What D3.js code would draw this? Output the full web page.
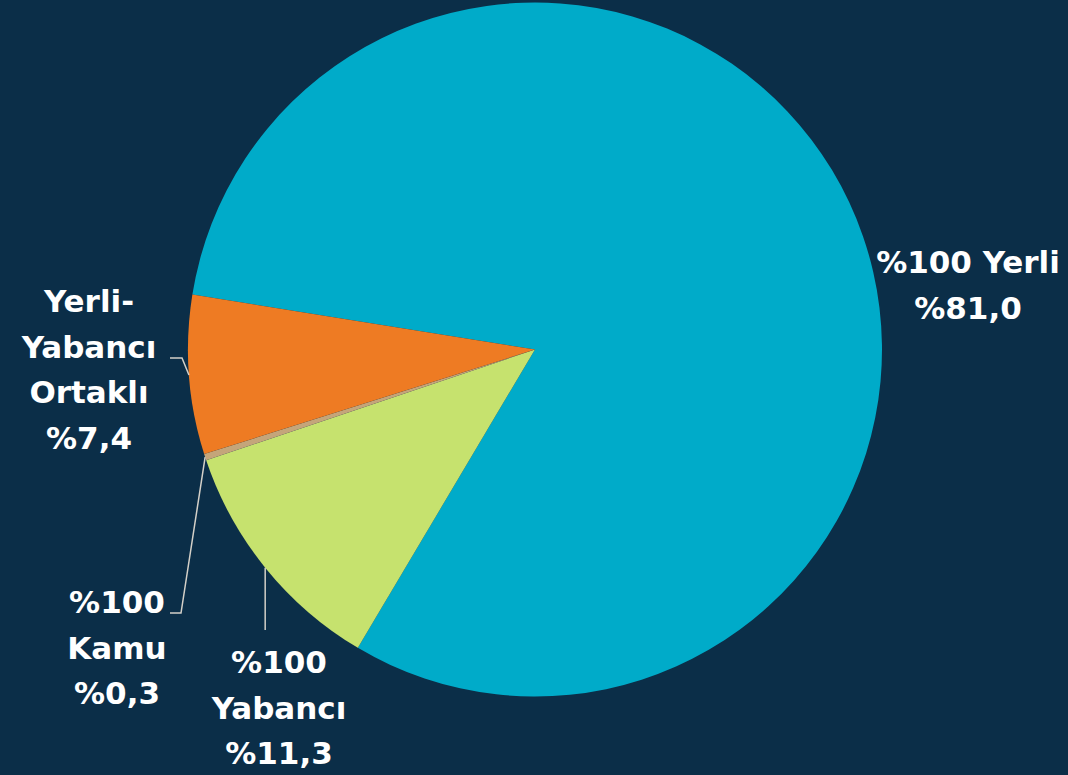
<!DOCTYPE html>
<html>
<head>
<meta charset="utf-8">
<script src="https://cdn.jsdelivr.net/npm/d3@7"></script>
<style>
  html, body { margin: 0; padding: 0; background: #0b2e48; }
  svg { display: block; }
  .lbl { font-family: "DejaVu Sans", sans-serif; font-weight: bold; font-size: 31px; fill: #ffffff; }
</style>
</head>
<body>
<div id="chart"></div>
<script>
// data
const categories = ['%100 Yerli', '%100 Yabancı', '%100 Kamu', 'Yerli-Yabancı Ortaklı'];
const values = [81.0, 11.3, 0.3, 7.4];
const valueLabels = ['%81,0', '%11,3', '%0,3', '%7,4'];
const labelLines = [
  ['%100 Yerli', '%81,0'],
  ['%100', 'Yabancı', '%11,3'],
  ['%100', 'Kamu', '%0,3'],
  ['Yerli-', 'Yabancı', 'Ortaklı', '%7,4']
];

const config = {
  div: '#chart',
  width: 1068,
  height: 775,
  cx: 535,
  cy: 349.5,
  radius: 347,
  startDeg: -80.9,
  lineGap: 45.5
};

const colors = d3.scaleOrdinal()
  .domain(categories)
  .range(['#00abc9', '#c6e26e', '#c4a57a', '#ee7b23']);

// label placement: text center x, first baseline y, leader elbow
const labelLayout = [
  { x: 968, y: 273, leader: null },
  { x: 279, y: 673, leader: { kind: 'vertical', endY: 630 } },
  { x: 117, y: 613, leader: { kind: 'elbow', elbowX: 181, endX: 170, endY: 613 } },
  { x: 89, y: 312, leader: { kind: 'elbow', elbowX: 182, endX: 170, endY: 358 } }
];

const svg = d3.select(config.div)
  .append('svg')
  .attr('width', config.width)
  .attr('height', config.height)
  .attr('viewBox', [0, 0, config.width, config.height]);

svg.append('rect')
  .attr('width', config.width)
  .attr('height', config.height)
  .attr('fill', '#0b2e48');

const start = config.startDeg * Math.PI / 180;
const pie = d3.pie()
  .sort(null)
  .value(d => d)
  .startAngle(start)
  .endAngle(start + 2 * Math.PI);

const arcs = pie(values);

const arc = d3.arc()
  .innerRadius(0)
  .outerRadius(config.radius);

const g = svg.append('g')
  .attr('transform', `translate(${config.cx},${config.cy})`);

g.selectAll('path.slice')
  .data(arcs)
  .join('path')
  .attr('class', 'slice')
  .attr('d', arc)
  .attr('fill', (d, i) => colors(categories[i]));

// leader lines from slice edge
const edgePoint = d => {
  const a = (d.startAngle + d.endAngle) / 2;
  return [config.cx + config.radius * Math.sin(a), config.cy - config.radius * Math.cos(a)];
};

arcs.forEach((d, i) => {
  const L = labelLayout[i].leader;
  if (!L) return;
  const [px, py] = edgePoint(d);
  let pts;
  if (L.kind === 'vertical') {
    pts = [[px, py], [px, L.endY]];
  } else {
    pts = [[px, py], [L.elbowX, L.endY], [L.endX, L.endY]];
  }
  svg.append('path')
    .attr('d', d3.line()(pts))
    .attr('fill', 'none')
    .attr('stroke', '#d4d0c8')
    .attr('stroke-width', 1.5);
});

// labels
labelLines.forEach((lines, i) => {
  const lay = labelLayout[i];
  const t = svg.append('text')
    .attr('class', 'lbl')
    .attr('text-anchor', 'middle');
  lines.forEach((s, j) => {
    t.append('tspan')
      .attr('x', lay.x)
      .attr('y', lay.y + j * config.lineGap)
      .text(s);
  });
});
</script>
</body>
</html>
